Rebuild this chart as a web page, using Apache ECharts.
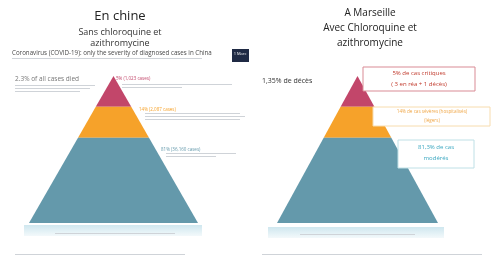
<!DOCTYPE html>
<html>
<head>
<meta charset="utf-8">
<script src="https://cdn.jsdelivr.net/npm/echarts@6/dist/echarts.min.js"></script>
<style>
  html, body { margin: 0; padding: 0; background: #fff; }
  #main { width: 491px; height: 260px; }
</style>
</head>
<body>
<div id="main"></div>
<script>
// levels of the pyramid, top to bottom
var levels = ['Critique', 'Sévère', 'Modéré']
// relative width of each band's lower edge
var chineWidths = [21, 42, 100]
var marseilleWidths = [21, 42, 100]
// share of cases written next to each band
var chinePct = ['5% (1,023 cases)', '14% (2,087 cases)', '81% (36,160 cases)']
var marseillePct = ['5% de cas critiques', '14% de cas sévères (hospitalisés)', '81,3% de cas']
var colors = ['#c2466a', '#f6a22a', '#6499ab']
var bandHeights = ['21%', '21%', '58%']

var font = '"Open Sans", "Liberation Sans", sans-serif'

function buildData(widths) {
  var out = []
  for (var i = 0; i < levels.length; i++) {
    out.push({
      name: levels[i],
      value: widths[i],
      itemStyle: { color: colors[i], height: bandHeights[i] }
    })
  }
  return out
}

function txt(x, y, s, size, color, extra) {
  var st = { text: s, x: x, y: y, fontSize: size, fill: color, fontFamily: font }
  if (extra) for (var k in extra) st[k] = extra[k]
  return { type: 'text', z: 110, style: st }
}

function faintLines(x, y, widths, gap) {
  var arr = []
  for (var i = 0; i < widths.length; i++) {
    arr.push({ type: 'rect', z: 105, shape: { x: x, y: y + i * gap, width: widths[i], height: 1 },
      style: { fill: '#cfd3d8' } })
  }
  return arr
}

var chart = echarts.init(document.getElementById('main'))

var graphics = [
  // left titles
  txt(120, 10, 'En chine', 13, '#222', { textAlign: 'center' }),
  txt(120, 28, 'Sans chloroquine et', 9, '#333', { textAlign: 'center', fontWeight: 500 }),
  txt(120, 39, 'azithromycine', 9, '#333', { textAlign: 'center', fontWeight: 500 }),
  txt(12, 50, 'Coronavirus (COVID-19): only the severity of diagnosed cases in China', 6.2, '#4a4a4a'),
  { type: 'rect', z: 105, shape: { x: 232, y: 49, width: 17, height: 13 }, style: { fill: '#1f2a44' } },
  txt(240, 52, '1 Marc', 4, '#fff', { textAlign: 'center' }),
  // right titles
  txt(370, 8, 'A Marseille', 10, '#222', { textAlign: 'center' }),
  txt(370, 23, 'Avec Chloroquine et', 10, '#222', { textAlign: 'center' }),
  txt(370, 38, 'azithromycine', 10, '#222', { textAlign: 'center' }),

  // left annotations
  txt(15, 76, '2.3% of all cases died', 6.5, '#777'),
  txt(116, 76, chinePct[0], 4.5, '#c2466a'),
  txt(139, 107, chinePct[1], 4.5, '#f6a22a'),
  txt(161, 147, chinePct[2], 4.5, '#6499ab'),

  // right annotations
  txt(262, 77, '1,35% de décès', 7, '#333'),
  { type: 'rect', z: 108, shape: { x: 363, y: 67, width: 112, height: 24 },
    style: { fill: '#fff', stroke: '#d98b95', lineWidth: 1 } },
  txt(419, 70, marseillePct[0], 6, '#c0392b', { textAlign: 'center' }),
  txt(419, 81, '( 3 en réa + 1 décès)', 6, '#c0392b', { textAlign: 'center' }),
  { type: 'rect', z: 108, shape: { x: 373, y: 107, width: 117, height: 19 },
    style: { fill: '#fff', stroke: '#f7dcae', lineWidth: 1 } },
  txt(432, 109, marseillePct[1], 4.6, '#f0a84a', { textAlign: 'center' }),
  txt(432, 118, '(légers)', 4.6, '#f0a84a', { textAlign: 'center' }),
  { type: 'rect', z: 108, shape: { x: 398, y: 140, width: 76, height: 28 },
    style: { fill: '#fff', stroke: '#bfe0e6', lineWidth: 1 } },
  txt(436, 144, marseillePct[2], 6, '#3aa7c0', { textAlign: 'center' }),
  txt(436, 155, 'modérés', 6, '#3aa7c0', { textAlign: 'center' }),

  // light blue bars under pyramids
  { type: 'rect', z: 100, shape: { x: 24, y: 225, width: 178, height: 11 },
    style: { fill: new echarts.graphic.LinearGradient(0, 0, 0, 1, [
      { offset: 0, color: '#cfe7ef' }, { offset: 1, color: '#f3f9fb' }]) } },
  { type: 'rect', z: 100, shape: { x: 268, y: 227, width: 176, height: 11 },
    style: { fill: new echarts.graphic.LinearGradient(0, 0, 0, 1, [
      { offset: 0, color: '#cfe7ef' }, { offset: 1, color: '#f3f9fb' }]) } }
]

graphics = graphics
  .concat(faintLines(12, 58, [190], 3))
  .concat(faintLines(15, 85, [80, 75, 65], 3))
  .concat(faintLines(122, 84, [110, 60], 3))
  .concat(faintLines(145, 113, [95, 100, 95], 3))
  .concat(faintLines(166, 153, [70, 50], 3))
  .concat(faintLines(55, 233, [120], 2))
  .concat(faintLines(300, 234, [115], 2))
  .concat(faintLines(15, 254, [170], 2))
  .concat(faintLines(262, 254, [220], 2))

var option = {
  backgroundColor: '#fff',
  animation: false,
  graphic: graphics,
  series: [{
    type: 'funnel',
    left: 29, top: 76, width: 169, height: 147,
    min: 0, max: 100,
    minSize: '0%', maxSize: '100%',
    sort: 'ascending',
    gap: 0,
    label: { show: false },
    labelLine: { show: false },
    itemStyle: { borderWidth: 0 },
    data: buildData(chineWidths)
  }, {
    type: 'funnel',
    left: 277, top: 76, width: 161, height: 147,
    min: 0, max: 100,
    minSize: '0%', maxSize: '100%',
    sort: 'ascending',
    gap: 0,
    label: { show: false },
    labelLine: { show: false },
    itemStyle: { borderWidth: 0 },
    data: buildData(marseilleWidths)
  }]
}
chart.setOption(option)
</script>
</body>
</html>
